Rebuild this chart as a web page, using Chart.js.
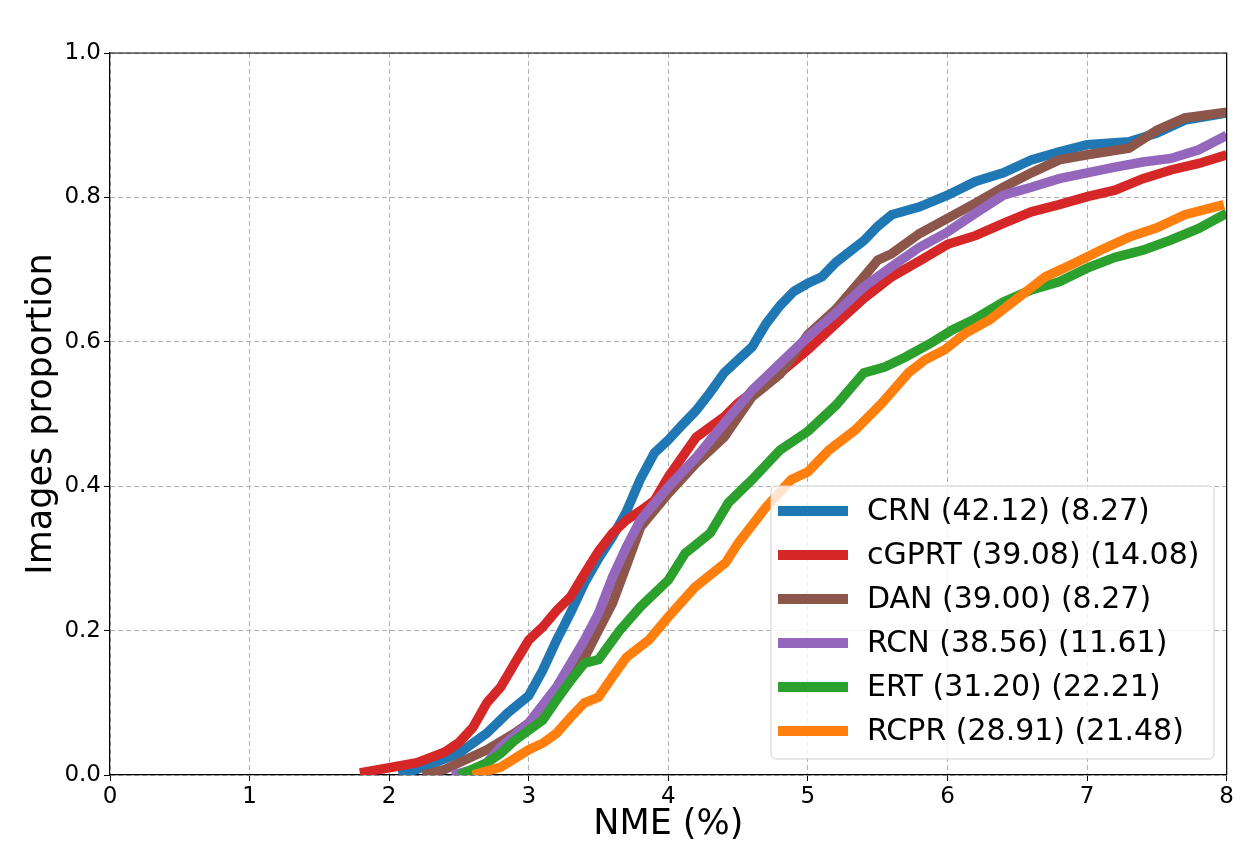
<!DOCTYPE html>
<html>
<head>
<meta charset="utf-8">
<script src="https://cdn.jsdelivr.net/npm/chart.js@4.4.1/dist/chart.umd.min.js"></script>
<style>
  html, body { margin: 0; padding: 0; background: #fff; }
  #wrap { width: 1236px; height: 846px; position: relative; }
</style>
</head>
<body>
<div id="wrap"><canvas id="cedCanvas"></canvas></div>
<script>
// CED curves: NME (%) vs images proportion
const crnX   = [2.07, 2.2, 2.3, 2.5, 2.7, 2.85, 3.0, 3.1, 3.2, 3.3, 3.4, 3.5, 3.6, 3.7, 3.8, 3.9, 4.0, 4.1, 4.2, 4.3, 4.4, 4.5, 4.6, 4.7, 4.8, 4.9, 5.0, 5.1, 5.2, 5.3, 5.4, 5.5, 5.6, 5.8, 6.0, 6.2, 6.4, 6.6, 6.8, 7.0, 7.3, 7.5, 7.7, 8.0];
const crnY   = [0, 0.008, 0.015, 0.03, 0.058, 0.086, 0.11, 0.145, 0.187, 0.225, 0.266, 0.3, 0.33, 0.365, 0.41, 0.446, 0.464, 0.485, 0.505, 0.53, 0.557, 0.575, 0.593, 0.625, 0.65, 0.67, 0.681, 0.69, 0.71, 0.725, 0.74, 0.76, 0.776, 0.787, 0.803, 0.822, 0.834, 0.852, 0.863, 0.873, 0.877, 0.889, 0.907, 0.917];

const cgprtX = [1.79, 2.0, 2.2, 2.4, 2.5, 2.6, 2.7, 2.8, 2.9, 3.0, 3.1, 3.2, 3.3, 3.4, 3.5, 3.6, 3.7, 3.8, 3.9, 4.0, 4.2, 4.4, 4.5, 4.6, 4.8, 5.0, 5.2, 5.4, 5.6, 5.8, 6.0, 6.2, 6.4, 6.6, 6.8, 7.0, 7.2, 7.4, 7.6, 7.8, 8.0];
const cgprtY = [0.003, 0.01, 0.017, 0.032, 0.045, 0.066, 0.1, 0.122, 0.155, 0.187, 0.205, 0.228, 0.247, 0.279, 0.31, 0.335, 0.353, 0.366, 0.38, 0.413, 0.468, 0.496, 0.515, 0.53, 0.557, 0.589, 0.625, 0.66, 0.69, 0.712, 0.735, 0.747, 0.764, 0.78, 0.79, 0.801, 0.81, 0.826, 0.838, 0.847, 0.859];

const danX   = [2.24, 2.4, 2.5, 2.7, 2.9, 3.0, 3.2, 3.4, 3.6, 3.7, 3.8, 4.0, 4.2, 4.4, 4.6, 4.8, 5.0, 5.2, 5.4, 5.5, 5.6, 5.8, 6.0, 6.2, 6.4, 6.6, 6.8, 7.0, 7.3, 7.5, 7.7, 8.0];
const danY   = [0, 0.008, 0.017, 0.035, 0.058, 0.072, 0.108, 0.163, 0.238, 0.29, 0.343, 0.39, 0.432, 0.468, 0.524, 0.555, 0.61, 0.645, 0.69, 0.713, 0.722, 0.75, 0.771, 0.792, 0.814, 0.834, 0.852, 0.859, 0.868, 0.893, 0.91, 0.918];

const rcnX   = [2.45, 2.6, 2.7, 2.8, 3.0, 3.2, 3.4, 3.5, 3.6, 3.7, 3.8, 4.0, 4.2, 4.4, 4.6, 4.8, 5.0, 5.2, 5.4, 5.6, 5.8, 6.0, 6.2, 6.4, 6.6, 6.8, 7.0, 7.2, 7.4, 7.6, 7.8, 8.0];
const rcnY   = [0, 0.007, 0.017, 0.039, 0.072, 0.122, 0.187, 0.224, 0.274, 0.316, 0.353, 0.399, 0.44, 0.487, 0.533, 0.57, 0.607, 0.64, 0.676, 0.704, 0.731, 0.752, 0.778, 0.803, 0.814, 0.826, 0.834, 0.842, 0.849, 0.854, 0.866, 0.886];

const ertX   = [2.5, 2.7, 2.8, 2.9, 3.0, 3.1, 3.2, 3.3, 3.4, 3.5, 3.65, 3.8, 4.0, 4.12, 4.3, 4.43, 4.6, 4.8, 5.0, 5.2, 5.4, 5.55, 5.7, 5.88, 6.03, 6.2, 6.4, 6.6, 6.8, 7.0, 7.2, 7.4, 7.6, 7.8, 8.0];
const ertY   = [0, 0.017, 0.03, 0.048, 0.062, 0.076, 0.104, 0.131, 0.155, 0.16, 0.2, 0.233, 0.27, 0.307, 0.335, 0.377, 0.409, 0.45, 0.476, 0.512, 0.557, 0.565, 0.579, 0.598, 0.616, 0.632, 0.655, 0.672, 0.683, 0.702, 0.717, 0.727, 0.741, 0.757, 0.778];

const rcprX  = [2.6, 2.8, 2.9, 3.0, 3.1, 3.2, 3.3, 3.4, 3.5, 3.6, 3.7, 3.86, 4.0, 4.19, 4.41, 4.5, 4.7, 4.88, 5.0, 5.15, 5.34, 5.53, 5.72, 5.84, 5.98, 6.13, 6.3, 6.5, 6.7, 6.9, 7.1, 7.3, 7.5, 7.7, 7.98];
const rcprY  = [0, 0.011, 0.023, 0.035, 0.044, 0.058, 0.08, 0.1, 0.108, 0.136, 0.163, 0.187, 0.219, 0.26, 0.294, 0.321, 0.371, 0.409, 0.42, 0.45, 0.478, 0.515, 0.557, 0.575, 0.589, 0.612, 0.63, 0.66, 0.69, 0.708, 0.727, 0.745, 0.758, 0.776, 0.79];

const seriesLabels = ['CRN (42.12) (8.27)', 'cGPRT (39.08) (14.08)', 'DAN (39.00) (8.27)', 'RCN (38.56) (11.61)', 'ERT (31.20) (22.21)', 'RCPR (28.91) (21.48)'];
const seriesColors = ['#1f77b4', '#d62728', '#8c564b', '#9467bd', '#2ca02c', '#ff7f0e'];
const seriesX = [crnX, cgprtX, danX, rcnX, ertX, rcprX];
const seriesY = [crnY, cgprtY, danY, rcnY, ertY, rcprY];

const FONT = "'DejaVu Sans', sans-serif";

function toPoints(xs, ys) {
    return xs.map((x, i) => ({ x: x, y: ys[i] }));
}

// top + right spines, then the boxed legend inside the plot
const framePlugin = {
    id: 'frameAndLegend',
    afterDatasetsDraw(chart) {
        const { ctx, chartArea: a } = chart;
        ctx.save();
        ctx.setLineDash([]);
        ctx.strokeStyle = '#000';
        ctx.lineWidth = 1.2;
        ctx.beginPath();
        ctx.moveTo(a.left, a.top);
        ctx.lineTo(a.right, a.top);
        ctx.lineTo(a.right, a.bottom);
        ctx.stroke();

        // legend box
        const bx = 771, by = 486, bw = 443, bh = 273, r = 5;
        ctx.beginPath();
        ctx.moveTo(bx + r, by);
        ctx.arcTo(bx + bw, by, bx + bw, by + bh, r);
        ctx.arcTo(bx + bw, by + bh, bx, by + bh, r);
        ctx.arcTo(bx, by + bh, bx, by, r);
        ctx.arcTo(bx, by, bx + bw, by, r);
        ctx.closePath();
        ctx.fillStyle = 'rgba(255,255,255,0.8)';
        ctx.fill();
        ctx.strokeStyle = '#d0d0d0';
        ctx.lineWidth = 1;
        ctx.stroke();

        ctx.font = '30px ' + FONT;
        ctx.textBaseline = 'middle';
        ctx.fillStyle = '#000';
        chart.data.datasets.forEach((ds, i) => {
            const yy = 511 + i * 44;
            ctx.strokeStyle = ds.borderColor;
            ctx.lineWidth = 10;
            ctx.lineCap = 'butt';
            ctx.beginPath();
            ctx.moveTo(778, yy);
            ctx.lineTo(848, yy);
            ctx.stroke();
            ctx.fillText(ds.label, 867, yy + 1);
        });
        ctx.restore();
    }
};

const datasets = seriesLabels.map((label, i) => ({
    label: label,
    data: toPoints(seriesX[i], seriesY[i]),
    borderColor: seriesColors[i],
    backgroundColor: seriesColors[i],
    borderWidth: 9.5,
    pointRadius: 0,
    tension: 0,
    fill: false,
    clip: { left: 0, top: 8, right: 0, bottom: 0 },
    order: seriesLabels.length - i
}));

const gridOpts = {
    color: '#b0b0b0',
    lineWidth: 1,
    drawTicks: true,
    tickLength: 6,
    tickColor: '#000',
    tickBorderDash: [],
    tickWidth: 1
};

const ctx = document.getElementById('cedCanvas');
new Chart(ctx.getContext('2d'), {
    type: 'line',
    data: { datasets: datasets },
    options: {
        responsive: true,
        maintainAspectRatio: false,
        animation: false,
        devicePixelRatio: 1,
        layout: { padding: { left: 0, top: 53, right: 7, bottom: 0 } },
        scales: {
            x: {
                type: 'linear',
                min: 0,
                max: 8,
                afterFit: (s) => { s.height = 71; },
                ticks: {
                    stepSize: 1,
                    color: '#000',
                    padding: 2,
                    font: { family: FONT, size: 23 }
                },
                grid: gridOpts,
                border: { display: true, color: '#000', width: 1.2, dash: [5, 3] },
                title: {
                    display: true,
                    text: 'NME (%)',
                    color: '#000',
                    font: { family: FONT, size: 35 },
                    padding: { top: 0, bottom: 0 }
                }
            },
            y: {
                type: 'linear',
                min: 0,
                max: 1,
                afterFit: (s) => { s.width = 110; },
                ticks: {
                    stepSize: 0.2,
                    color: '#000',
                    padding: 3,
                    font: { family: FONT, size: 23 },
                    callback: (v) => v.toFixed(1)
                },
                grid: gridOpts,
                border: { display: true, color: '#000', width: 1.2, dash: [5, 3] },
                title: {
                    display: true,
                    text: 'Images proportion',
                    color: '#000',
                    font: { family: FONT, size: 35 },
                    padding: { top: 21, bottom: 0 }
                }
            }
        },
        plugins: {
            legend: { display: false },
            tooltip: { enabled: false }
        }
    },
    plugins: [framePlugin]
});
</script>
</body>
</html>
